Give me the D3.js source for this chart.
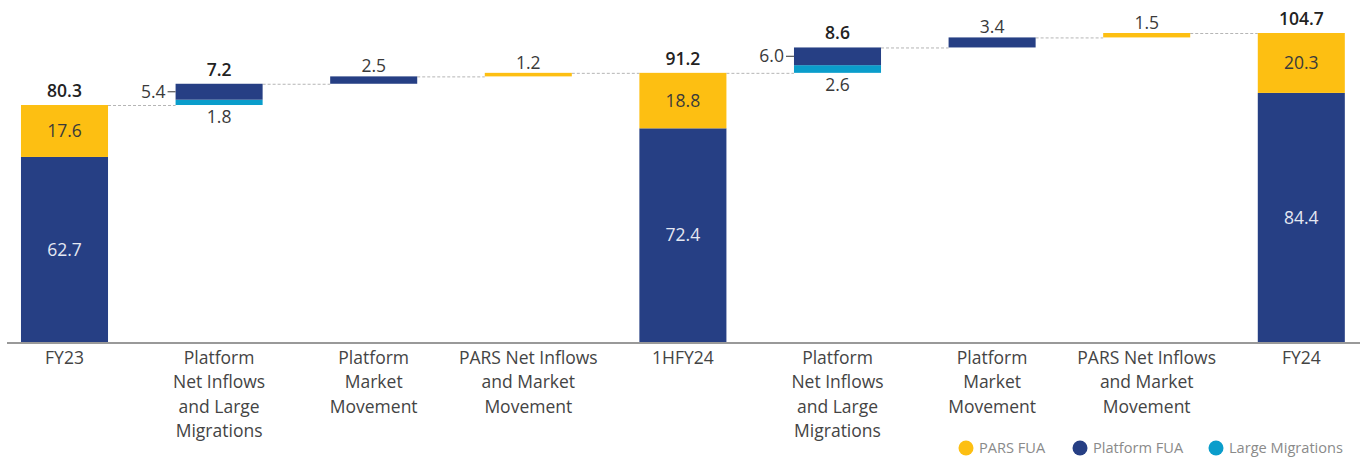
<!DOCTYPE html>
<html lang="en">
<head>
<meta charset="utf-8">
<title>FUA waterfall</title>
<script src="https://d3js.org/d3.v7.min.js"></script>
<style>
  body { margin: 0; background: #fff; }
  svg text { font-family: "Open Sans", Lato, sans-serif; font-weight: 400; }
</style>
</head>
<body>
<script>
var w = 1367, h = 457;

// data
var categories = ["FY23", "PNI1", "PMM1", "PARS1", "1HFY24", "PNI2", "PMM2", "PARS2", "FY24"];
var catLabels = [
  ["FY23"],
  ["Platform", "Net Inflows", "and Large", "Migrations"],
  ["Platform", "Market", "Movement"],
  ["PARS Net Inflows", "and Market", "Movement"],
  ["1HFY24"],
  ["Platform", "Net Inflows", "and Large", "Migrations"],
  ["Platform", "Market", "Movement"],
  ["PARS Net Inflows", "and Market", "Movement"],
  ["FY24"]
];
var isTotal  = [true, false, false, false, true, false, false, false, true];
var largeMig = [0, 1.8, 0, 0, 0, 2.6, 0, 0, 0];
var platform = [62.7, 5.4, 2.5, 0, 72.4, 6.0, 3.4, 0, 84.4];
var pars     = [17.6, 0, 0, 1.2, 18.8, 0, 0, 1.5, 20.3];

var legendNames = ["PARS FUA", "Platform FUA", "Large Migrations"];
var colors = { pars: "#FDBF12", platform: "#263F84", large: "#0A9DCB" };
var fmt = d3.format(".1f");

var baseline = 342;
var fs = 17.5;

var x = d3.scaleBand()
  .domain(categories)
  .range([-12.8, 1378.6])
  .paddingInner(0.437)
  .paddingOuter(0.2185);

var y = d3.scaleLinear()
  .domain([0, 104.7])
  .range([baseline, 33]);

var svg = d3.select("body").append("svg")
  .attr("width", w)
  .attr("height", h);

// build segments with running base
var segs = [];
var bars = [];
var running = 0;
categories.forEach(function(c, i) {
  var start = isTotal[i] ? 0 : running;
  var order = isTotal[i]
    ? [["platform", platform[i]], ["pars", pars[i]]]
    : [["large", largeMig[i]], ["platform", platform[i]], ["pars", pars[i]]];
  var b = start;
  order.forEach(function(o) {
    if (o[1] > 0) {
      segs.push({ cat: c, i: i, key: o[0], y0: b, y1: b + o[1], v: o[1] });
      b += o[1];
    }
  });
  bars.push({ cat: c, i: i, start: start, end: b, total: b - start });
  running = b;
});

// connectors
var conn = [];
for (var i = 0; i < bars.length - 1; i++) {
  conn.push({ x1: x(bars[i].cat) + x.bandwidth(), x2: x(bars[i + 1].cat), v: bars[i].end });
}
svg.selectAll(".conn")
  .data(conn)
  .enter().append("line")
  .attr("x1", function(d) { return d.x1; })
  .attr("x2", function(d) { return d.x2; })
  .attr("y1", function(d) { return y(d.v) + 0.5; })
  .attr("y2", function(d) { return y(d.v) + 0.5; })
  .attr("stroke", "#b5b5b5")
  .attr("stroke-width", 1)
  .attr("stroke-dasharray", "3,2");

// bars
svg.selectAll(".seg")
  .data(segs)
  .enter().append("rect")
  .attr("x", function(d) { return x(d.cat); })
  .attr("width", x.bandwidth())
  .attr("y", function(d) { return y(d.y1); })
  .attr("height", function(d) { return y(d.y0) - y(d.y1); })
  .attr("fill", function(d) { return colors[d.key]; });

// axis line
svg.append("line")
  .attr("x1", 7).attr("x2", 1360)
  .attr("y1", baseline + 1).attr("y2", baseline + 1)
  .attr("stroke", "#999").attr("stroke-width", 2);

// category labels
var cat = svg.selectAll(".cat")
  .data(categories)
  .enter().append("text")
  .attr("text-anchor", "middle")
  .attr("font-size", fs)
  .attr("fill", "#444")
  .attr("y", 364);
cat.each(function(d, i) {
  var t = d3.select(this);
  catLabels[i].forEach(function(line, j) {
    t.append("tspan")
      .attr("x", x(d) + x.bandwidth() / 2)
      .attr("dy", j === 0 ? 0 : 24.3)
      .text(line);
  });
});

// inside labels for total bars
svg.selectAll(".inlab")
  .data(segs.filter(function(d) { return isTotal[d.i]; }))
  .enter().append("text")
  .attr("x", function(d) { return x(d.cat) + x.bandwidth() / 2; })
  .attr("y", function(d) { return (y(d.y0) + y(d.y1)) / 2; })
  .attr("dy", "0.35em")
  .attr("text-anchor", "middle")
  .attr("font-size", fs)
  .attr("fill", function(d) { return d.key === "platform" ? "#e4e8f2" : "#3a3a3a"; })
  .text(function(d) { return fmt(d.v); });

// top labels
function isMulti(i) { return isTotal[i] || largeMig[i] > 0; }
svg.selectAll(".toplab")
  .data(bars)
  .enter().append("text")
  .attr("x", function(d) { return x(d.cat) + x.bandwidth() / 2; })
  .attr("y", function(d) { return y(d.end) - (isMulti(d.i) ? 8 : 4); })
  .attr("text-anchor", "middle")
  .attr("font-size", fs)
  .style("font-weight", function(d) { return isMulti(d.i) ? 600 : 400; })
  .attr("fill", function(d) { return isMulti(d.i) ? "#222" : "#3a3a3a"; })
  .text(function(d) { return fmt(d.total); });

// side labels for step bars with large migrations
var mixed = segs.filter(function(d) { return !isTotal[d.i] && largeMig[d.i] > 0; });
var plat = mixed.filter(function(d) { return d.key === "platform"; });
var lg = mixed.filter(function(d) { return d.key === "large"; });

svg.selectAll(".ptick")
  .data(plat)
  .enter().append("line")
  .attr("x1", function(d) { return x(d.cat) - 8; })
  .attr("x2", function(d) { return x(d.cat); })
  .attr("y1", function(d) { return (y(d.y0) + y(d.y1)) / 2; })
  .attr("y2", function(d) { return (y(d.y0) + y(d.y1)) / 2; })
  .attr("stroke", "#555").attr("stroke-width", 1.2);

svg.selectAll(".plab")
  .data(plat)
  .enter().append("text")
  .attr("x", function(d) { return x(d.cat) - 10; })
  .attr("y", function(d) { return (y(d.y0) + y(d.y1)) / 2; })
  .attr("dy", "0.35em")
  .attr("text-anchor", "end")
  .attr("font-size", fs)
  .attr("fill", "#3a3a3a")
  .text(function(d) { return fmt(d.v); });

svg.selectAll(".llab")
  .data(lg)
  .enter().append("text")
  .attr("x", function(d) { return x(d.cat) + x.bandwidth() / 2; })
  .attr("y", function(d) { return y(d.y0) + 18; })
  .attr("text-anchor", "middle")
  .attr("font-size", fs)
  .attr("fill", "#3a3a3a")
  .text(function(d) { return fmt(d.v); });

// legend
var legX = [966, 1080, 1216];
var legKeys = ["pars", "platform", "large"];
var leg = svg.selectAll(".leg")
  .data(legendNames)
  .enter().append("g")
  .attr("transform", function(d, i) { return "translate(" + legX[i] + ",448)"; });
leg.append("circle")
  .attr("r", 7.5)
  .attr("fill", function(d, i) { return colors[legKeys[i]]; });
leg.append("text")
  .attr("x", 13)
  .attr("dy", "0.35em")
  .attr("font-size", 14.6)
  .attr("fill", "#8a8a8a")
  .text(function(d) { return d; });
</script>
</body>
</html>
